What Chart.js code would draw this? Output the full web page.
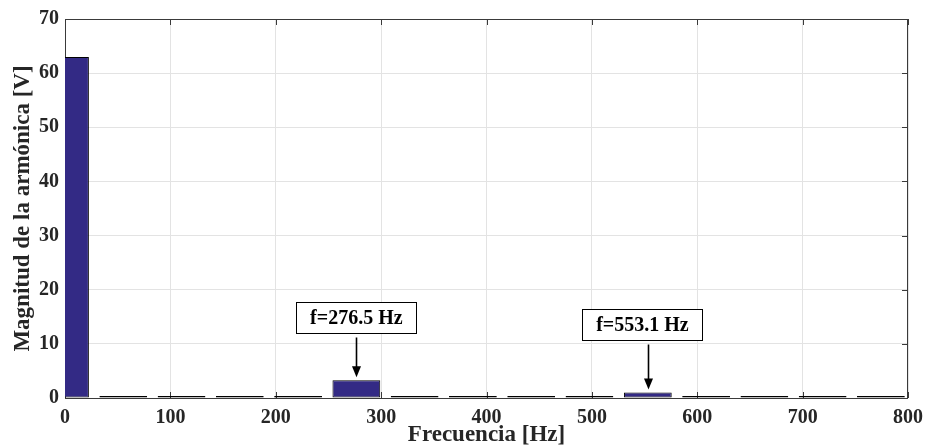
<!DOCTYPE html>
<html>
<head>
<meta charset="utf-8">
<script src="https://cdn.jsdelivr.net/npm/chart.js@4.4.1/dist/chart.umd.min.js"></script>
<style>
  html, body { margin: 0; padding: 0; background: #ffffff; }
  #wrap { width: 931px; height: 447px; position: relative; }
</style>
</head>
<body>
<div id="wrap"><canvas id="chart" width="931" height="447"></canvas></div>
<script>
// Harmonic spectrum: frequency of each bin [Hz] and its magnitude [V]
const frequencies = [0, 55.3, 110.6, 165.9, 221.2, 276.5, 331.8, 387.1, 442.4, 497.7, 553.1, 608.4, 663.7, 719.0, 774.3];
const magnitudes  = [63.0, 0.38, 0.37, 0.38, 0.37, 3.3, 0.38, 0.37, 0.38, 0.37, 1.0, 0.38, 0.37, 0.38, 0.37];

// Axis ticks
const xTicks = [0, 100, 200, 300, 400, 500, 600, 700, 800];
const yTicks = [0, 10, 20, 30, 40, 50, 60, 70];

// Callouts for the two highlighted harmonics
const calloutFreqs  = [276.5, 553.1];
const calloutLabels = ['f=276.5 Hz', 'f=553.1 Hz'];
const calloutBoxX   = [276.5, 548];   // box centre, Hz
const calloutBoxY   = [14.8, 13.6];   // box centre, V

const FONT = "'Liberation Serif', 'Times New Roman', serif";

const axisBox = {
  id: 'axisBox',
  beforeDatasetsDraw(chart) {
    const { ctx, chartArea: a, scales } = chart;
    ctx.save();
    ctx.strokeStyle = '#3a3a3a';
    ctx.lineWidth = 1;
    ctx.strokeRect(a.left + 0.5, a.top + 0.5, a.right - a.left - 1, a.bottom - a.top);
    // inward tick marks on all four sides
    const tl = 6;
    ctx.beginPath();
    xTicks.forEach(v => {
      const x = Math.round(scales.x.getPixelForValue(v)) + 0.5;
      ctx.moveTo(x, a.bottom); ctx.lineTo(x, a.bottom - tl);
      ctx.moveTo(x, a.top); ctx.lineTo(x, a.top + tl);
    });
    yTicks.forEach(v => {
      const y = Math.round(scales.y.getPixelForValue(v)) + 0.5;
      ctx.moveTo(a.left, y); ctx.lineTo(a.left + tl, y);
      ctx.moveTo(a.right, y); ctx.lineTo(a.right - tl, y);
    });
    ctx.stroke();
    ctx.restore();
  }
};

const callouts = {
  id: 'callouts',
  afterDatasetsDraw(chart) {
    const { ctx, scales } = chart;
    ctx.save();
    ctx.font = 'bold 20px ' + FONT;
    calloutLabels.forEach((label, i) => {
      const cx = scales.x.getPixelForValue(calloutBoxX[i]);
      const cy = scales.y.getPixelForValue(calloutBoxY[i]);
      const w = 120, h = 31;
      const bx = Math.round(cx - w / 2) + 0.5, by = Math.round(cy - h / 2) + 0.5;
      ctx.fillStyle = '#ffffff';
      ctx.fillRect(bx, by, w, h);
      ctx.strokeStyle = '#000000';
      ctx.lineWidth = 1;
      ctx.strokeRect(bx, by, w, h);
      ctx.fillStyle = '#000000';
      ctx.textAlign = 'center';
      ctx.textBaseline = 'middle';
      ctx.fillText(label, cx, cy + 1);

      // arrow from box down to the bar top
      const ax = Math.round(scales.x.getPixelForValue(calloutFreqs[i])) + 0.5;
      const bar = magnitudes[frequencies.indexOf(calloutFreqs[i])];
      const y0 = by + h + 4;
      const y1 = scales.y.getPixelForValue(bar) - 3;
      ctx.strokeStyle = '#000000';
      ctx.lineWidth = 1.6;
      ctx.beginPath();
      ctx.moveTo(ax, y0);
      ctx.lineTo(ax, y1 - 8);
      ctx.stroke();
      ctx.beginPath();
      ctx.moveTo(ax - 4.5, y1 - 11);
      ctx.lineTo(ax + 4.5, y1 - 11);
      ctx.lineTo(ax, y1);
      ctx.closePath();
      ctx.fill();
    });
    ctx.restore();
  }
};

new Chart(document.getElementById('chart'), {
  type: 'bar',
  data: {
    datasets: [{
      data: frequencies.map((f, i) => ({ x: f, y: magnitudes[i] })),
      backgroundColor: '#332a85',
      borderColor: '#000000',
      borderWidth: 1,
      borderSkipped: false,
      barPercentage: 0.82,
      categoryPercentage: 1.0
    }]
  },
  options: {
    responsive: false,
    animation: false,
    events: [],
    layout: { padding: { top: 19, right: 21, left: 0, bottom: 0 } },
    plugins: { legend: { display: false }, tooltip: { enabled: false } },
    scales: {
      x: {
        type: 'linear',
        offset: false,
        min: 0, max: 800,
        afterFit(s) { s.height = 49; },
        afterBuildTicks(s) { s.ticks = xTicks.map(v => ({ value: v })); },
        grid: { color: '#e3e3e3', drawTicks: false, lineWidth: 1, offset: false },
        border: { display: false },
        ticks: { color: '#262626', padding: 8, font: { family: FONT, size: 20, weight: 'bold' }, maxRotation: 0 },
        title: {
          display: true, text: 'Frecuencia [Hz]', color: '#262626',
          font: { family: FONT, size: 23, weight: 'bold', lineHeight: 1 },
          padding: { top: 0, bottom: 0 }
        }
      },
      y: {
        min: 0, max: 70,
        afterFit(s) { s.width = 65; },
        afterBuildTicks(s) { s.ticks = yTicks.map(v => ({ value: v })); },
        grid: { color: '#e3e3e3', drawTicks: false, lineWidth: 1 },
        border: { display: false },
        ticks: { color: '#262626', padding: 6, font: { family: FONT, size: 20, weight: 'bold' } },
        title: {
          display: true, text: 'Magnitud de la armónica [V]', color: '#262626',
          font: { family: FONT, size: 23, weight: 'bold', lineHeight: 1 },
          padding: { top: 12, bottom: 0 }
        }
      }
    }
  },
  plugins: [axisBox, callouts]
});
</script>
</body>
</html>
